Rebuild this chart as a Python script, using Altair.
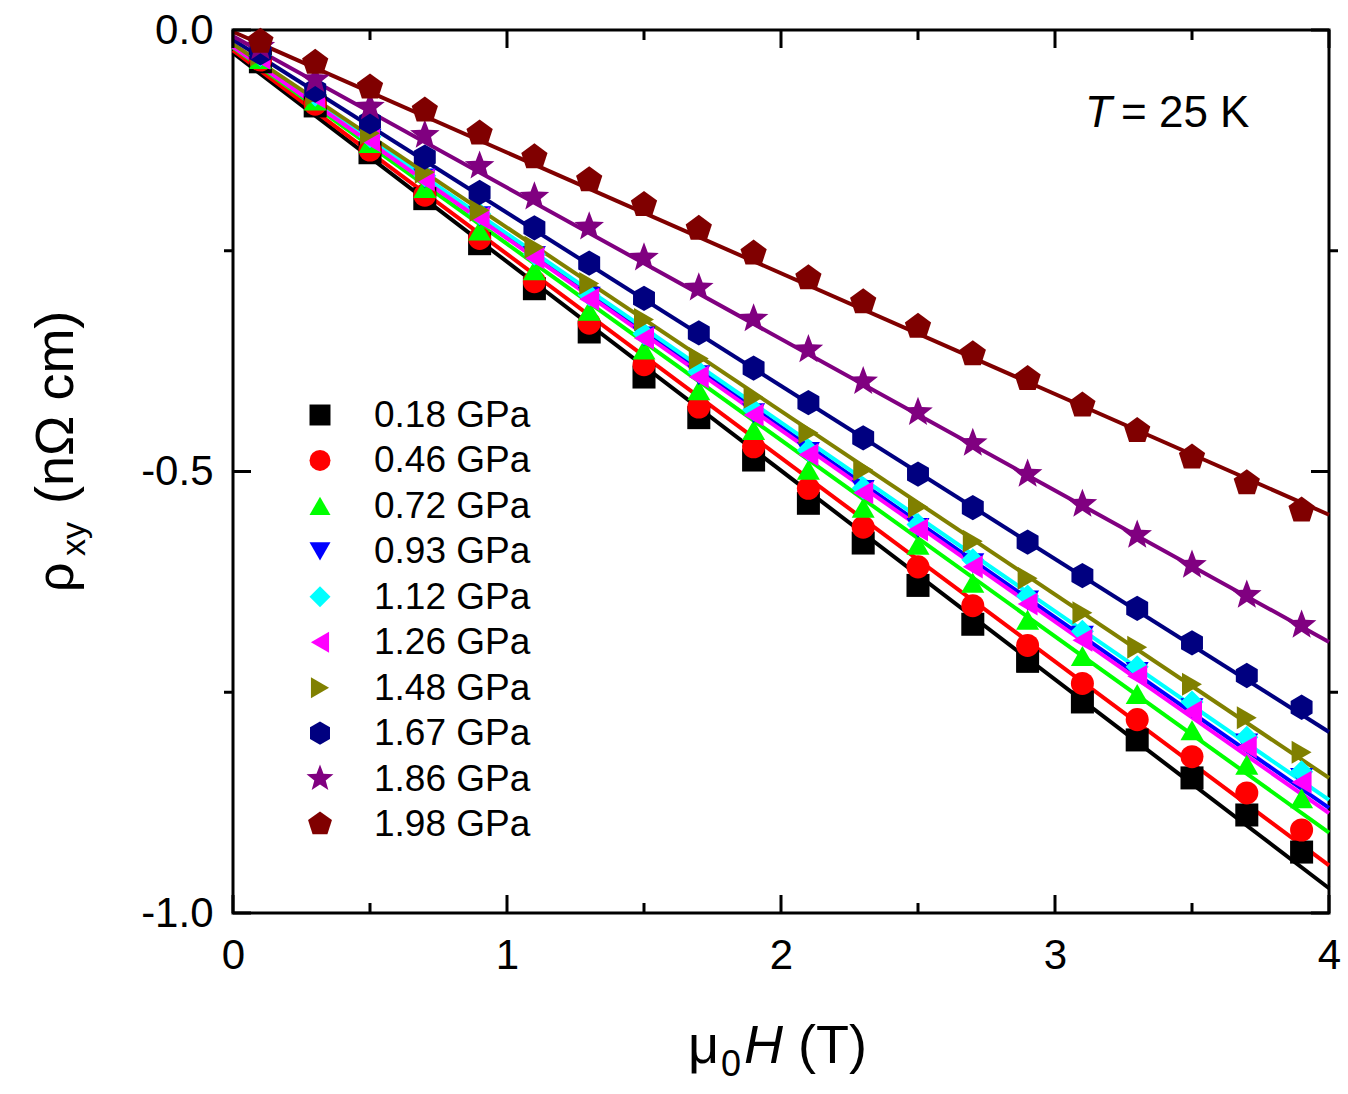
import altair as alt
import pandas as pd

# ---------------- data ----------------
FIELD = [0.1, 0.3, 0.5, 0.7, 0.9, 1.1, 1.3, 1.5, 1.7, 1.9,
         2.1, 2.3, 2.5, 2.7, 2.9, 3.1, 3.3, 3.5, 3.7, 3.9]
PRESSURES = ["0.18 GPa", "0.46 GPa", "0.72 GPa", "0.93 GPa", "1.12 GPa",
             "1.26 GPa", "1.48 GPa", "1.67 GPa", "1.86 GPa", "1.98 GPa"]

RHO_018 = [-0.036, -0.086, -0.139, -0.191, -0.242, -0.293, -0.342, -0.393, -0.439, -0.487,
           -0.536, -0.581, -0.629, -0.673, -0.715, -0.761, -0.804, -0.847, -0.889, -0.931]
RHO_046 = [-0.034, -0.084, -0.136, -0.187, -0.236, -0.285, -0.332, -0.379, -0.427, -0.472,
           -0.519, -0.563, -0.608, -0.652, -0.697, -0.740, -0.781, -0.823, -0.864, -0.906]
RHO_072 = [-0.033, -0.080, -0.128, -0.179, -0.227, -0.272, -0.318, -0.362, -0.408, -0.453,
           -0.498, -0.541, -0.583, -0.626, -0.668, -0.709, -0.752, -0.793, -0.832, -0.870]
RHO_093 = [-0.031, -0.075, -0.123, -0.168, -0.211, -0.256, -0.302, -0.347, -0.391, -0.434,
           -0.478, -0.521, -0.564, -0.604, -0.646, -0.686, -0.727, -0.768, -0.808, -0.847]
RHO_112 = [-0.029, -0.074, -0.121, -0.165, -0.208, -0.254, -0.300, -0.344, -0.387, -0.430,
           -0.476, -0.519, -0.560, -0.600, -0.641, -0.681, -0.721, -0.761, -0.801, -0.840]
RHO_126 = [-0.032, -0.076, -0.125, -0.170, -0.213, -0.258, -0.305, -0.349, -0.393, -0.436,
           -0.481, -0.524, -0.566, -0.608, -0.650, -0.691, -0.732, -0.772, -0.812, -0.852]
RHO_148 = [-0.028, -0.073, -0.117, -0.161, -0.204, -0.246, -0.287, -0.328, -0.372, -0.416,
           -0.456, -0.498, -0.540, -0.579, -0.621, -0.660, -0.699, -0.741, -0.779, -0.818]
RHO_167 = [-0.026, -0.068, -0.104, -0.144, -0.184, -0.224, -0.264, -0.304, -0.343, -0.383,
           -0.422, -0.462, -0.503, -0.541, -0.580, -0.618, -0.655, -0.694, -0.731, -0.767]
RHO_186 = [-0.019, -0.056, -0.087, -0.119, -0.154, -0.189, -0.223, -0.258, -0.292, -0.327,
           -0.362, -0.398, -0.433, -0.468, -0.503, -0.537, -0.572, -0.606, -0.640, -0.674]
RHO_198 = [-0.013, -0.037, -0.065, -0.091, -0.117, -0.144, -0.170, -0.198, -0.225, -0.253,
           -0.281, -0.308, -0.336, -0.367, -0.395, -0.425, -0.454, -0.484, -0.513, -0.544]

# linear fits (value at 0 T and at 4 T)
FIT_FIELD = [0.0, 4.0]
FIT_018 = [-0.026, -0.972]
FIT_046 = [-0.023, -0.946]
FIT_072 = [-0.020, -0.909]
FIT_093 = [-0.018, -0.881]
FIT_112 = [-0.017, -0.872]
FIT_126 = [-0.019, -0.887]
FIT_148 = [-0.016, -0.847]
FIT_167 = [-0.011, -0.795]
FIT_186 = [-0.007, -0.693]
FIT_198 = [-0.002, -0.549]

X_MAJOR = [0, 1, 2, 3, 4]
X_MINOR = [0.5, 1.5, 2.5, 3.5]
Y_MAJOR = [0.0, -0.5, -1.0]
Y_MINOR = [-0.25, -0.75]

ANNOT_T = "T"
ANNOT_REST = "= 25 K"
Y_TITLE_MAIN = "ρ"
Y_TITLE_SUB = "xy"
Y_TITLE_UNIT = "(nΩ cm)"
X_TITLE_MAIN = "μ"
X_TITLE_SUB = "0"
X_TITLE_H = "H"
X_TITLE_UNIT = "(T)"

# ---------------- styles ----------------
COLORS = ["#000000", "#ff0000", "#00ff00", "#0000ff", "#00ffff",
          "#ff00ff", "#808000", "#000080", "#800080", "#800000"]
HEXAGON = "M0,-1.1L0.953,-0.55L0.953,0.55L0,1.1L-0.953,0.55L-0.953,-0.55Z"
STAR = ("M0,-1.35L0.335,-0.461L1.284,-0.417L0.542,0.176L0.794,1.092L0,0.57"
        "L-0.794,1.092L-0.542,0.176L-1.284,-0.417L-0.335,-0.461Z")
PENTAGON = "M0,-1.2L1.141,-0.371L0.705,0.971L-0.705,0.971L-1.141,-0.371Z"
SHAPES = ["square", "circle", "triangle-up", "triangle-down", "diamond",
          "triangle-left", "triangle-right", HEXAGON, STAR, PENTAGON]

W, H = 1096, 883
FONT = "Liberation Sans"

series_rho = [RHO_018, RHO_046, RHO_072, RHO_093, RHO_112,
              RHO_126, RHO_148, RHO_167, RHO_186, RHO_198]
series_fit = [FIT_018, FIT_046, FIT_072, FIT_093, FIT_112,
              FIT_126, FIT_148, FIT_167, FIT_186, FIT_198]

pts = pd.DataFrame([
    {"H": h, "rho": r, "series": p}
    for p, vals in zip(PRESSURES, series_rho) for h, r in zip(FIELD, vals)
])
fits = pd.DataFrame([
    {"H": h, "rho": r, "series": p}
    for p, vals in zip(PRESSURES, series_fit) for h, r in zip(FIT_FIELD, vals)
])
leg = pd.DataFrame({"series": PRESSURES})

xscale = alt.Scale(domain=[0, 4], nice=False, zero=False)
yscale = alt.Scale(domain=[-1, 0], nice=False, zero=False)
color_scale = alt.Scale(domain=PRESSURES, range=COLORS)
shape_scale = alt.Scale(domain=PRESSURES, range=SHAPES)

x_enc = alt.X("H:Q", scale=xscale, axis=alt.Axis(
    values=X_MAJOR, format="d", ticks=False, domain=False, grid=False, title=None,
    labelFont=FONT, labelFontSize=42, labelColor="black", labelPadding=22,
    labelFlush=False))
y_axis_enc = alt.Y("rho:Q", scale=yscale, axis=alt.Axis(
    values=Y_MAJOR, ticks=False, domain=False, grid=False, title=None,
    labelFont=FONT, labelFontSize=42, labelColor="black", labelPadding=20,
    labelFlush=False,
    labelExpr="datum.value == 0 ? '0.0' : (datum.value == -0.5 ? '-0.5' : '-1.0')"))
y_plain = alt.Y("rho:Q", scale=yscale, axis=None)

lines = alt.Chart(fits).mark_line(strokeWidth=4).encode(
    x=x_enc, y=y_axis_enc,
    color=alt.Color("series:N", scale=color_scale, legend=None),
    detail="series:N",
)

points = alt.Chart(pts).mark_point(filled=True, size=530, opacity=1).encode(
    x=x_enc, y=y_plain,
    color=alt.Color("series:N", scale=color_scale, legend=None),
    shape=alt.Shape("series:N", scale=shape_scale, legend=None),
)

# legend built from marks
leg_y = alt.Y("series:N", scale=alt.Scale(type="point", domain=PRESSURES,
                                          range=[385, 794], padding=0), axis=None)
leg_sym = alt.Chart(leg).mark_point(filled=True, size=440, opacity=1).encode(
    x=alt.value(87), y=leg_y,
    color=alt.Color("series:N", scale=color_scale, legend=None),
    shape=alt.Shape("series:N", scale=shape_scale, legend=None),
)
leg_txt = alt.Chart(leg).mark_text(font=FONT, fontSize=37, align="left",
                                   baseline="middle", color="black", dy=1).encode(
    x=alt.value(141), y=leg_y, text="series:N")


def xticks(vals, y0, y1):
    return alt.Chart(pd.DataFrame({"H": vals})).mark_rule(strokeWidth=3, color="black").encode(
        x=alt.X("H:Q", scale=xscale), y=alt.value(y0), y2=alt.value(y1))


def yticks(vals, x0, x1):
    return alt.Chart(pd.DataFrame({"rho": vals})).mark_rule(strokeWidth=3, color="black").encode(
        y=y_plain, x=alt.value(x0), x2=alt.value(x1))


ticks = [
    xticks(X_MAJOR, H, H - 18), xticks(X_MINOR, H, H - 10),
    xticks(X_MAJOR, 0, 18), xticks(X_MINOR, 0, 10),
    yticks(Y_MAJOR, 0, 18), yticks(Y_MINOR, -9, 0),
    yticks(Y_MAJOR, W - 18, W), yticks(Y_MINOR, W, W + 9),
]

one = alt.Data(values=[{}])


def label(text, x, y, size, style="normal", angle=0, align="left"):
    return alt.Chart(one).mark_text(
        text=text, font=FONT, fontSize=size, fontStyle=style, angle=angle,
        align=align, baseline="alphabetic", color="black").encode(
        x=alt.value(x), y=alt.value(y))


texts = [
    label(ANNOT_T, 852, 97, 44, style="italic"),
    label(ANNOT_REST, 888, 97, 44),
    # y title (rotated)
    label(Y_TITLE_MAIN, -160, 562, 52, angle=270),
    label(Y_TITLE_SUB, -148, 526, 34, angle=270),
    label(Y_TITLE_UNIT, -160, 474, 54, angle=270),
    # x title
    label(X_TITLE_MAIN, 455, 1033, 54),
    label(X_TITLE_SUB, 488, 1046, 36),
    label(X_TITLE_H, 511, 1033, 54, style="italic"),
    label(X_TITLE_UNIT, 565, 1033, 54),
]

chart = alt.layer(lines, points, *ticks, leg_sym, leg_txt, *texts).resolve_scale(
    y="independent"
).properties(
    width=W, height=H,
    padding={"left": 233, "top": 30, "right": 19, "bottom": 181},
    autosize=alt.AutoSizeParams(type="none"),
    background="white",
).configure_view(stroke="black", strokeWidth=3)

chart.save("out.html", embed_options={"renderer": "svg", "actions": False})
